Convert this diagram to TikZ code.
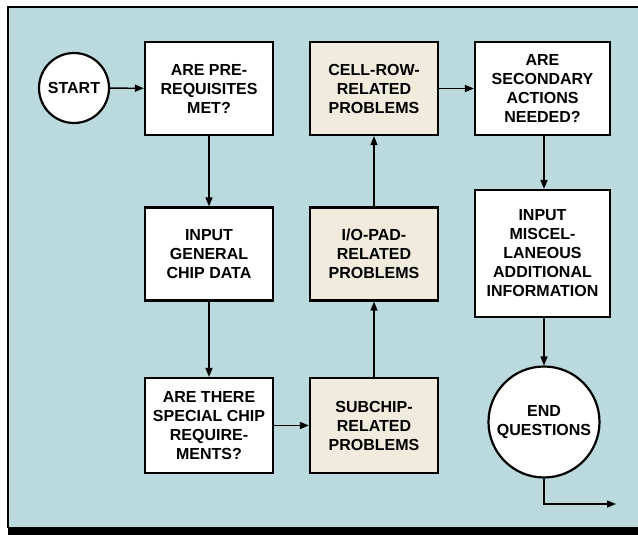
\documentclass[tikz,border=0pt]{standalone}
\usepackage{fontspec}
\setmainfont{Liberation Sans}
\usepackage{tikz}
\usetikzlibrary{shapes,arrows.meta,positioning}
\definecolor{panelblue}{RGB}{186,218,222}
\definecolor{probbeige}{RGB}{241,235,222}

\begin{document}
\begin{tikzpicture}[x=1pt, y=-1pt,
    >={Triangle[length=9pt,width=7pt]},
    flowbox/.style={draw, line width=2.2pt, rectangle, fill=white, align=center,
        minimum width=128pt, minimum height=93pt, inner sep=2pt,
        font=\bfseries\fontsize{16}{19}\selectfont},
    probbox/.style={flowbox, fill=probbeige},
    termnode/.style={draw, line width=2.2pt, circle, fill=white, align=center,
        inner sep=1pt, font=\bfseries\fontsize{16}{19}\selectfont},
    flow/.style={->, line width=1.4pt}]
    \useasboundingbox (0,0) rectangle (638,535);
    \fill[white] (0,0) rectangle (638,535);
    \fill[panelblue] (8,7) rectangle (638,528);
    \draw[line width=1.8pt] (638,7) -- (8,7) -- (8,528);
    \fill[black] (8,527) rectangle (638,535);

    \node[termnode, minimum size=70pt] (start) at (74,88) {START};
    \node[flowbox] (prereq) at (209,88.5) {ARE PRE-\\REQUISITES\\MET?};
    \node[flowbox] (chipdata) at (209,254) {INPUT\\GENERAL\\CHIP DATA};
    \node[flowbox, minimum height=95pt] (special) at (209,425.5) {ARE THERE\\SPECIAL CHIP\\REQUIRE-\\MENTS?};

    \node[probbox] (cellrow) at (374,88.5) {CELL-ROW-\\RELATED\\PROBLEMS};
    \node[probbox] (iopad) at (374,254) {I/O-PAD-\\RELATED\\PROBLEMS};
    \node[probbox, minimum height=95pt] (subchip) at (374,425.5) {SUBCHIP-\\RELATED\\PROBLEMS};

    \node[flowbox, minimum width=135pt] (secondary) at (542.5,88.5) {ARE\\SECONDARY\\ACTIONS\\NEEDED?};
    \node[flowbox, minimum width=135pt, minimum height=127pt] (misc) at (542.5,253.5) {INPUT\\MISCEL-\\LANEOUS\\ADDITIONAL\\INFORMATION};
    \node[termnode, minimum size=111pt] (endq) at (544,422) {END\\QUESTIONS};
    \coordinate (exit) at (616,504);

    \draw[flow] (start) -- (prereq);
    \draw[flow] (prereq) -- (chipdata);
    \draw[flow] (chipdata) -- (special);
    \draw[flow] (special) -- (subchip);
    \draw[flow] (subchip) -- (iopad);
    \draw[flow] (iopad) -- (cellrow);
    \draw[flow] (cellrow) -- (secondary);
    \draw[flow] (secondary.south -| endq) -- (misc.north -| endq);
    \draw[flow] (misc.south -| endq) -- (endq);
    \draw[flow] (endq) |- (exit);
\end{tikzpicture}
\end{document}
